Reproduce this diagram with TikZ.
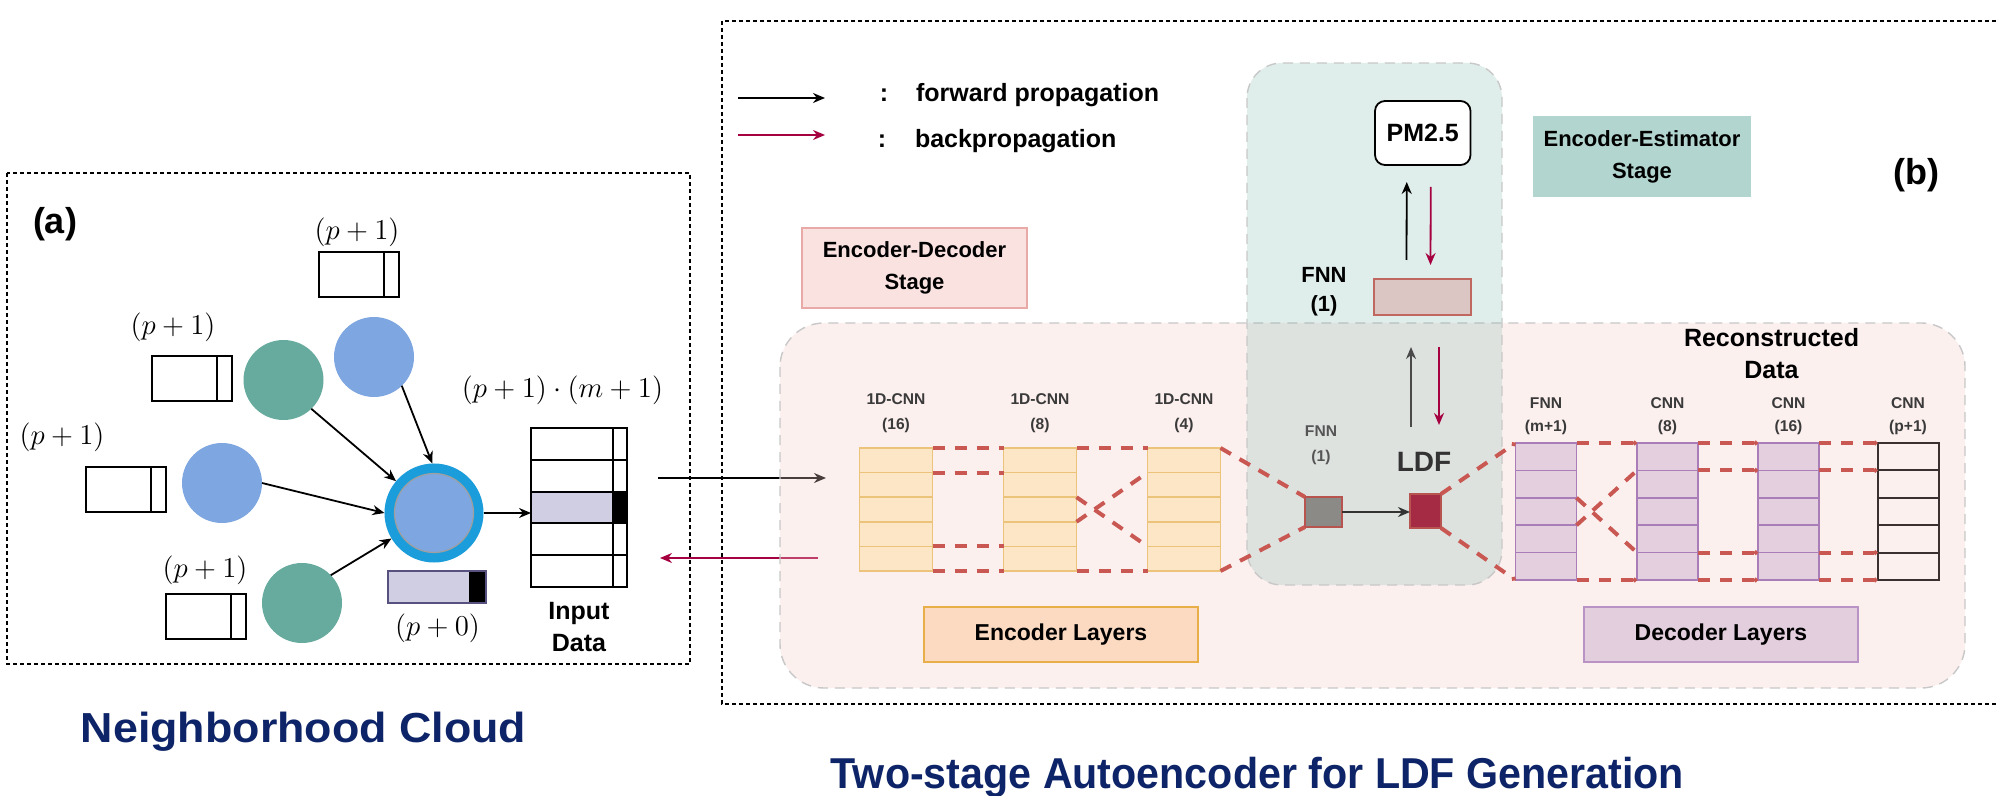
\documentclass[tikz,border=0pt]{standalone}
\usepackage{fontspec}
\setmainfont{Liberation Sans}
\setsansfont{Liberation Sans}
\usepackage{graphicx}
\usetikzlibrary{arrows.meta,calc}

\definecolor{bluec}{HTML}{7EA6E0}
\definecolor{greenc}{HTML}{67AB9F}
\definecolor{ringc}{HTML}{1B9DDB}
\definecolor{lavf}{HTML}{D0CEE2}
\definecolor{lavd}{HTML}{56517E}
\definecolor{crim}{HTML}{A50040}
\definecolor{navy}{HTML}{0E2468}
\definecolor{pinkr}{HTML}{F8CECC}
\definecolor{regb}{HTML}{C8C8C8}
\definecolor{dred}{HTML}{C95752}
\definecolor{txtd}{HTML}{333333}
\definecolor{txtm}{HTML}{3A3A3A}
\definecolor{txtl}{HTML}{555555}
\definecolor{arrg}{HTML}{4A4A4A}
\definecolor{edsd}{HTML}{E9A9A7}
\definecolor{edsf}{HTML}{FAE2E1}
\definecolor{eesf}{HTML}{B2D6CF}
\definecolor{fnnd}{HTML}{C0675F}
\definecolor{fnnf}{HTML}{DCC6C4}
\definecolor{sqd}{HTML}{B85450}
\definecolor{gqf}{HTML}{8B8A87}
\definecolor{rqf}{HTML}{A52B45}
\definecolor{estd}{HTML}{EBC37B}
\definecolor{estf}{HTML}{FDE6C6}
\definecolor{dstd}{HTML}{A97DB8}
\definecolor{dstf}{HTML}{E3CFDE}
\definecolor{outd}{HTML}{3A3030}
\definecolor{encd}{HTML}{E8AE47}
\definecolor{encf}{HTML}{FBDAC1}
\definecolor{decd}{HTML}{B992C6}
\definecolor{decf}{HTML}{E2CEDD}

\newcommand\dlink[5][]{\draw[dl,#1] ($(#2.north east)!#3!(#2.south east)$) -- ($(#4.north west)!#5!(#4.south west)$);}
\newcommand\rowlines[2]{\foreach \f in {0.2,0.4,0.6,0.8}
  \draw[#2] ($(#1.north west)!\f!(#1.south west)$) -- ($(#1.north east)!\f!(#1.south east)$);}

\begin{document}
\begin{tikzpicture}[x=0.5pt,y=-0.5pt,
  every node/.style={inner sep=0pt,outer sep=0pt},
  arr/.style={line width=0.9pt,-{Stealth[length=6pt,width=5pt]}},
  barr/.style={arr,draw=crim,color=crim},
  frame/.style={line width=0.7pt,dash pattern=on 2pt off 1.5pt},
  cell/.style={draw=black,line width=1pt,fill=white,minimum width=40pt,minimum height=22.5pt},
  dotc/.style={circle,minimum size=40pt},
  mlab/.style={font=\fontsize{14}{16}\selectfont},
  region/.style={draw=regb,line width=0.7pt,dash pattern=on 5pt off 3.5pt},
  dl/.style={draw=dred,line width=2pt,dash pattern=on 6pt off 5pt},
  dle/.style={dl,-{Circle[length=2.2pt]}},
  est/.style={draw=estd,fill=estf,line width=0.8pt,minimum width=36.5pt,minimum height=61.5pt},
  dst/.style={draw=dstd,fill=dstf,line width=0.8pt,minimum width=30.5pt,minimum height=68.5pt},
  slab/.style={font=\bfseries\fontsize{7.8}{12.5}\selectfont,text=txtm,align=center},
  dlab/.style={slab,font=\bfseries\fontsize{7.8}{11.5}\selectfont},
  legt/.style={font=\bfseries\fontsize{12.5}{14}\selectfont,anchor=base west},
  stagebox/.style={align=center,font=\bfseries\fontsize{11}{16}\selectfont,line width=0.8pt},
  layerbox/.style={line width=0.9pt,minimum width=137pt,minimum height=27.5pt,font=\bfseries\fontsize{11.5}{14}\selectfont},
  ttl/.style={anchor=base,text=navy,font=\bfseries\fontsize{21}{24}\selectfont}
]
\useasboundingbox (0,0) rectangle (1996,796);
\fill[white] (0,0) rectangle (1996,796);

% ---------------- (a) neighbourhood ----------------
\draw[frame] (7,173) rectangle (690,664);
\node[font=\bfseries\fontsize{18}{20}\selectfont] (la) at (55,224) {(a)};

% feature cells of the neighbours
\node[cell] (c1) at (358.5,275) {};
\node[cell] (c2) at (191.5,378.5) {};
\node[cell] (c3) at (126,489.5) {};
\node[cell] (c4) at (205.75,616.5) {};
\foreach \n in {c1,c2,c3,c4}
  \draw[line width=1pt] ($(\n.north east)+(-15,0)$) -- ($(\n.south east)+(-15,0)$);
\node[mlab] (l1) at (357,232) {$(p+1)$};
\node[mlab] (l2) at (173,327) {$(p+1)$};
\node[mlab] (l3) at (62,437) {$(p+1)$};
\node[mlab] (l4) at (205,570) {$(p+1)$};

% neighbour stations
\node[dotc,fill=bluec] (nt) at (374,357) {};
\node[dotc,fill=greenc] (ng1) at (283.5,380) {};
\node[dotc,fill=bluec] (nl) at (222,483) {};
\node[dotc,fill=greenc] (ng2) at (302,603) {};
\node[circle,fill=bluec,draw=ringc,line width=5pt,minimum size=44.5pt,outer sep=2.5pt] (hub) at (434,513) {};
\draw[gray!75,line width=0.6pt] (hub.center) circle (39.5);

\draw[arr] (ng1.314) -- (hub.140);
\draw[arr] (nt.314) -- (hub.92);
\draw[arr] (nl.east) -- (hub.west);
\draw[arr] (ng2.44) -- (hub.211);

% own feature row
\fill[lavf] (388,571) rectangle (469,603);
\fill[black] (469,571) rectangle (486,603);
\node[draw=lavd,line width=0.6pt,minimum width=49pt,minimum height=16pt] (own) at (437,587) {};
\node[mlab] (l0) at (437.5,628) {$(p+0)$};

% input data matrix
\fill[lavf] (531,492) rectangle (612.5,523);
\fill[black] (612.5,492) rectangle (627,523);
\node[draw=black,line width=1pt,minimum width=48pt,minimum height=79.5pt] (inp) at (579,507.5) {};
\rowlines{inp}{line width=1pt}
\draw[line width=1pt] ($(inp.north east)+(-14.5,0)$) -- ($(inp.south east)+(-14.5,0)$);
\node[font=\fontsize{14.8}{16}\selectfont] (lm) at (562.5,390) {$(p+1)\cdot(m+1)$};
\node[font=\bfseries\fontsize{12.5}{16}\selectfont,align=center] (inl) at (579,627) {Input\\Data};
\draw[arr] (hub.east) -- (hub.east -| inp.west);

% links between the two panels
\coordinate (fa) at (658,478);
\coordinate (fb) at (826,478);
\coordinate (ba) at (818,558);
\coordinate (bb) at (660,558);
\draw[arr] (fa) -- (fb);
\draw[barr] (ba) -- (bb);

% ---------------- (b) autoencoder ----------------
\draw[frame] (1996,21) -- (722,21) -- (722,704) -- (1996,704);
\node[font=\bfseries\fontsize{18}{20}\selectfont] (lb) at (1916.5,175) {(b)};

% legend
\coordinate (k1) at (738,98);
\coordinate (k2) at (825,98);
\coordinate (k3) at (738,135);
\coordinate (k4) at (825,135);
\draw[arr] (k1) -- (k2);
\draw[barr] (k3) -- (k4);
\node[legt,anchor=base] (kc1) at (884,101.5) {:};
\node[legt] (kt1) at (916,101.5) {forward propagation};
\node[legt,anchor=base] (kc2) at (882,148) {:};
\node[legt] (kt2) at (915,148) {backpropagation};

% stage regions
\path[region,fill=pinkr,fill opacity=.3,rounded corners=22pt] (780,323) rectangle (1965,688);
\path[region,fill=greenc,fill opacity=.2,rounded corners=17.5pt] (1247,63) rectangle (1502,585);

\node[stagebox,draw=edsd,fill=edsf,minimum width=112.5pt,minimum height=40pt] (eds) at (914.5,268) {Encoder-Decoder\\Stage};
\node[stagebox,fill=eesf,minimum width=109pt,minimum height=40.5pt] (ees) at (1642,157) {Encoder-Estimator\\Stage};

% estimator head
\node[draw=black,fill=white,rounded corners=5pt,line width=0.9pt,minimum width=47.75pt,minimum height=32pt,font=\bfseries\fontsize{12.5}{14}\selectfont] (pm) at (1422.75,133) {PM2.5};
\node[draw=fnnd,fill=fnnf,line width=0.8pt,minimum width=48.5pt,minimum height=18pt] (fnn) at (1422.5,297) {};
\node[font=\bfseries\fontsize{11}{14.5}\selectfont,align=center] (fnnl) at (1324,292) {FNN\\(1)};
\draw[arr] ($(fnn.north)+(-16,-19)$) -- ($(pm.south)+(-16,17)$);
\draw[barr] ($(pm.south)+(8,22)$) -- ($(fnn.north)+(8,-14)$);

% latent feature
\node[draw=sqd,fill=gqf,line width=0.8pt,minimum width=18.5pt,minimum height=15pt] (gq) at (1323.5,512) {};
\node[draw=sqd,fill=rqf,line width=0.8pt,minimum width=15.5pt,minimum height=17pt] (rq) at (1425.5,511) {};
\node[font=\bfseries\fontsize{14}{16}\selectfont,text=txtd] (ldfl) at (1424,462) {LDF};
\node[font=\bfseries\fontsize{7.8}{12.5}\selectfont,text=txtl,align=center] (gql) at (1321,445.5) {FNN\\(1)};
\draw[arr,draw=txtd,color=txtd] (gq.east) -- (gq.east -| rq.west);
\draw[arr,draw=arrg,color=arrg] ($(rq.north)+(-14.5,-67)$) -- ($(fnn.south)+(-11.5,32)$);
\draw[barr] ($(fnn.south)+(16.5,32)$) -- ($(rq.north)+(13.5,-69)$);

% encoder stacks
\node[est] (e1) at (896,509.5) {};
\node[est] (e2) at (1040,509.5) {};
\node[est] (e3) at (1184,509.5) {};
\foreach \n in {e1,e2,e3} {\rowlines{\n}{draw=estd,line width=0.8pt}}
\node[slab] (e1l) at (896,413.5) {1D-CNN\\(16)};
\node[slab] (e2l) at (1040,413.5) {1D-CNN\\(8)};
\node[slab] (e3l) at (1184,413.5) {1D-CNN\\(4)};

% decoder stacks
\node[dst] (d1) at (1546,511.5) {};
\node[dst] (d2) at (1667.5,511.5) {};
\node[dst] (d3) at (1788.5,511.5) {};
\node[draw=outd,line width=1pt,minimum width=30.5pt,minimum height=68.5pt] (d4) at (1908,511.5) {};
\foreach \n in {d1,d2,d3} {\rowlines{\n}{draw=dstd,line width=0.8pt}}
\rowlines{d4}{draw=outd,line width=1pt}
\node[dlab] (d1l) at (1546,416.5) {FNN\\(m+1)};
\node[dlab] (d2l) at (1667.5,416.5) {CNN\\(8)};
\node[dlab] (d3l) at (1788.5,416.5) {CNN\\(16)};
\node[dlab] (d4l) at (1908,416.5) {CNN\\(p+1)};
\node[font=\bfseries\fontsize{12.5}{16}\selectfont,align=center] (rec) at (1771.5,354) {Reconstructed\\Data};

% encoder connections
\foreach \f in {0,0.2,0.8,1} {\dlink{e1}{\f}{e2}{\f}}
\dlink{e2}{0}{e3}{0}
\dlink{e2}{1}{e3}{1}
\dlink{e2}{0.4}{e3}{0.8}
\dlink{e2}{0.6}{e3}{0.2}
\draw[dl] (e3.north east) -- (gq.north west);
\draw[dl] (e3.south east) -- (gq.south west);

% decoder connections
\draw[dle] (rq.north east) -- (d1.north west);
\draw[dle] (rq.south east) -- (d1.south west);
\dlink[dle]{d1}{0}{d2}{0}
\dlink[dle]{d1}{1}{d2}{1}
\dlink{d1}{0.4}{d2}{0.8}
\dlink{d1}{0.6}{d2}{0.2}
\foreach \f in {0,0.2,0.8,1} {\dlink[dle]{d2}{\f}{d3}{\f}\dlink[dle]{d3}{\f}{d4}{\f}}

% layer captions
\node[layerbox,draw=encd,fill=encf] (encl) at (1061,634.5) {Encoder Layers};
\node[layerbox,draw=decd,fill=decf] (decl) at (1721,634.5) {Decoder Layers};

% titles
\node[ttl] (t1) at (303.5,742) {\scalebox{1.066}[1]{Neighborhood Cloud}};
\node[ttl,font=\bfseries\fontsize{21.6}{24}\selectfont] (t2) at (1257.5,788) {\scalebox{0.954}[1]{Two-stage Autoencoder for LDF Generation}};
\end{tikzpicture}
\end{document}
